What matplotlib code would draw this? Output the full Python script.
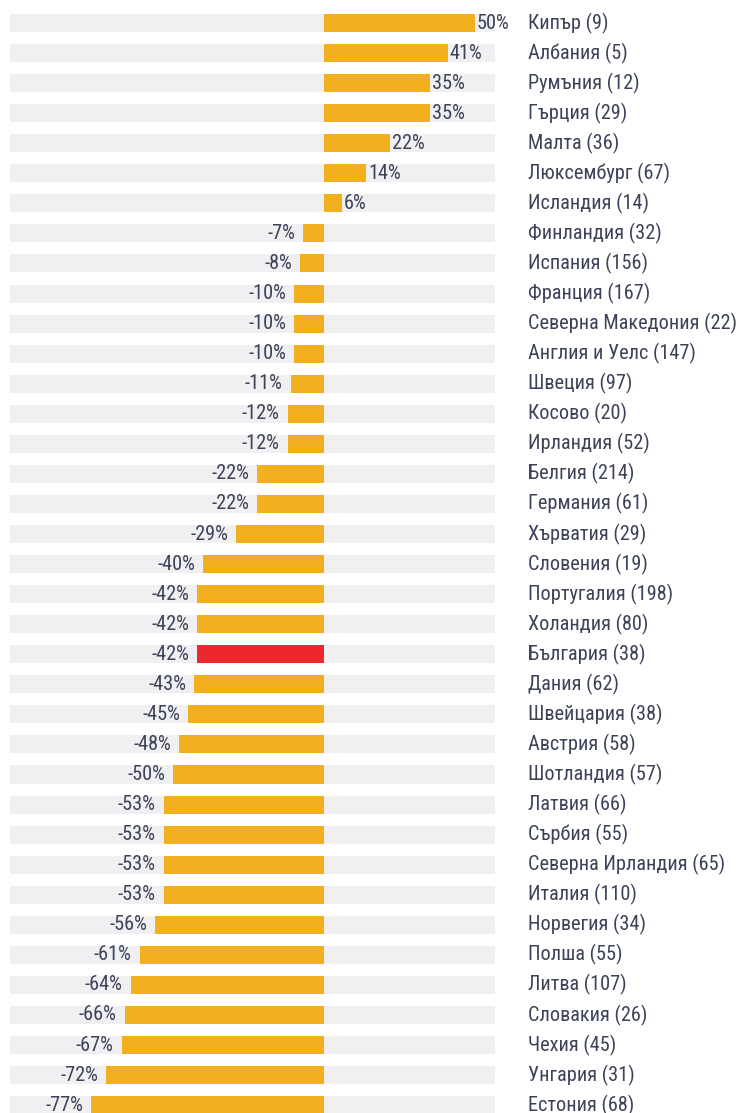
import matplotlib
matplotlib.use("Agg")
import matplotlib.pyplot as plt
from matplotlib import font_manager

countries = [
    "Кипър (9)", "Албания (5)", "Румъния (12)", "Гърция (29)", "Малта (36)",
    "Люксембург (67)", "Исландия (14)", "Финландия (32)", "Испания (156)",
    "Франция (167)", "Северна Македония (22)", "Англия и Уелс (147)",
    "Швеция (97)", "Косово (20)", "Ирландия (52)", "Белгия (214)",
    "Германия (61)", "Хърватия (29)", "Словения (19)", "Португалия (198)",
    "Холандия (80)", "България (38)", "Дания (62)", "Швейцария (38)",
    "Австрия (58)", "Шотландия (57)", "Латвия (66)", "Сърбия (55)",
    "Северна Ирландия (65)", "Италия (110)", "Норвегия (34)", "Полша (55)",
    "Литва (107)", "Словакия (26)", "Чехия (45)", "Унгария (31)", "Естония (68)",
]
values = [
    50, 41, 35, 35, 22, 14, 6, -7, -8, -10, -10, -10, -11, -12, -12, -22,
    -22, -29, -40, -42, -42, -42, -43, -45, -48, -50, -53, -53, -53, -53,
    -56, -61, -64, -66, -67, -72, -77,
]
highlight = "България (38)"

# pick a narrow font if one is installed
names = {f.name for f in font_manager.fontManager.ttflist}
family = "DejaVu Sans"
for cand in ["Roboto Condensed", "Liberation Sans Narrow", "DejaVu Sans Condensed", "Open Sans Condensed"]:
    if cand in names:
        family = cand
        break
stretch = "condensed" if family == "DejaVu Sans" else "normal"

ORANGE = "#F2AF1E"
RED = "#EC282D"
GREY = "#F0F0F2"
TEXT = "#3C4258"

W, H = 741, 1113
fig = plt.figure(figsize=(W / 100, H / 100), dpi=100)
ax = fig.add_axes([10 / W, 0, (495 - 10) / W, 1])

# zero sits at x=324 px, ~3.02 px per percent
xmin, xmax = -103.9, 56.6
n = len(countries)
ys = list(range(n))

ax.barh(ys, [xmax - xmin] * n, left=xmin, height=0.6, color=GREY, zorder=1)
colors = [RED if c == highlight else ORANGE for c in countries]
ax.barh(ys, values, height=0.6, color=colors, zorder=2)

fs = 14.6
for y, v, c in zip(ys, values, countries):
    if v >= 0:
        ax.text(v + 0.6, y, f"{v}%", ha="left", va="center", fontsize=fs,
                color=TEXT, family=family, stretch=stretch, zorder=3)
    else:
        ax.text(v - 2.6, y, f"{v}%", ha="right", va="center", fontsize=fs,
                color=TEXT, family=family, stretch=stretch, zorder=3)
    ax.text(xmax + 11, y, c, ha="left", va="center", fontsize=fs,
            color=TEXT, family=family, stretch=stretch, clip_on=False)

ax.set_xlim(xmin, xmax)
ax.set_ylim((H - 23) / 30.06, -23 / 30.06)
ax.axis("off")

fig.savefig("out.png", dpi=100)
